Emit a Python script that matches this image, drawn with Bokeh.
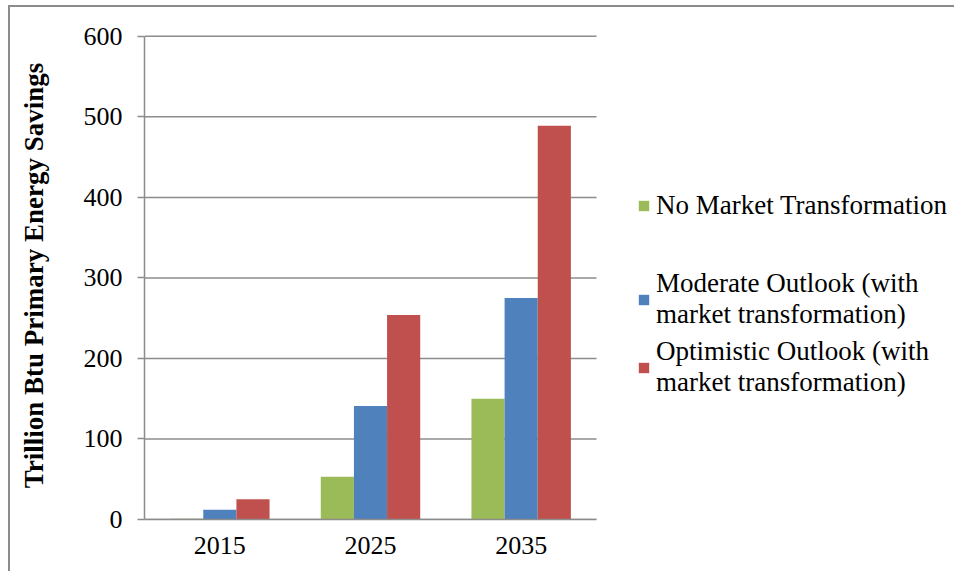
from bokeh.plotting import figure
from bokeh.models import ColumnDataSource, FixedTicker, Legend, LegendItem, Range1d
from bokeh.transform import dodge
from bokeh.embed import file_html
from bokeh.resources import INLINE

years = ["2015", "2025", "2035"]
no_market = [1, 53, 150]
moderate = [12, 141, 275]
optimistic = [25, 254, 489]
series_labels = [
    "No Market Transformation",
    "Moderate Outlook (with\nmarket transformation)",
    "Optimistic Outlook (with\nmarket transformation)",
]
colors = ["#9BBB59", "#4F81BD", "#C0504D"]
y_ticks = [0, 100, 200, 300, 400, 500, 600]

n = len(years)
centers = [i + 0.5 for i in range(n)]
src = ColumnDataSource(dict(x=centers, a=no_market, b=moderate, c=optimistic))

FONT = "Liberation Serif"
GRAY = "#8c8c8c"

# plot area covers the bars plus the blank legend zone to the right
x_end = n * 806 / 452
p = figure(x_range=Range1d(0, x_end), y_range=Range1d(0, 606), width=946, height=566,
           output_backend="svg", toolbar_location=None,
           min_border_left=134, min_border_top=24, min_border_right=6,
           min_border_bottom=54)
p.styles = {"margin-left": "8px", "margin-top": "5px",
            "border-left": "2px solid #8c8c8c", "border-top": "2px solid #8c8c8c"}
p.outline_line_color = None
p.background_fill_color = "white"
p.border_fill_color = "white"
p.xgrid.grid_line_color = None
p.ygrid.grid_line_color = None

# horizontal gridlines across the category area only
p.segment(x0=0, x1=n, y0=y_ticks, y1=y_ticks, line_color=GRAY, line_width=1.5)

w = 0.22
renderers = []
for col, off, c in zip(["a", "b", "c"], [-w, 0, w], colors):
    r = p.vbar(x=dodge("x", off), top=col, width=w, source=src,
               fill_color=c, line_color=None)
    renderers.append(r)

p.yaxis.ticker = FixedTicker(ticks=y_ticks)
p.yaxis.bounds = (0, 600)
p.yaxis.axis_label = "Trillion Btu Primary Energy Savings"
p.yaxis.axis_label_text_font = FONT
p.yaxis.axis_label_text_font_style = "bold"
p.yaxis.axis_label_text_font_size = "27px"
p.yaxis.axis_label_text_color = "black"
p.yaxis.axis_label_standoff = 32
p.yaxis.axis_line_color = GRAY
p.yaxis.axis_line_width = 1.5
p.yaxis.major_tick_line_color = GRAY
p.yaxis.major_tick_line_width = 1.5
p.yaxis.major_tick_out = 7
p.yaxis.major_tick_in = 0
p.yaxis.minor_tick_line_color = None
p.yaxis.major_label_standoff = 15

p.xaxis.ticker = FixedTicker(ticks=centers)
p.xaxis.major_label_overrides = {c: y for c, y in zip(centers, years)}
p.xaxis.bounds = (0, n)
p.xaxis.axis_line_color = GRAY
p.xaxis.axis_line_width = 1.5
p.xaxis.major_tick_line_color = None
p.xaxis.minor_tick_line_color = None
p.xaxis.major_label_standoff = 11

for ax in (p.xaxis, p.yaxis):
    ax.major_label_text_font = FONT
    ax.major_label_text_font_size = "26px"
    ax.major_label_text_color = "black"

def make_legend(items, loc, spacing):
    return Legend(items=items, location=loc, padding=0, margin=0, spacing=spacing,
                  border_line_color=None, background_fill_alpha=0,
                  glyph_width=13, glyph_height=13, label_standoff=6,
                  label_text_font=FONT, label_text_font_size="27px",
                  label_text_color="black")

leg1 = make_legend([LegendItem(label=series_labels[0], renderers=[renderers[0]])], (493, 298), 0)
leg2 = make_legend([LegendItem(label=series_labels[1], renderers=[renderers[1]]),
                    LegendItem(label=series_labels[2], renderers=[renderers[2]])], (493, 121), 6)
p.add_layout(leg1, "center")
p.add_layout(leg2, "center")

open("out.html", "w").write(file_html(p, INLINE))
